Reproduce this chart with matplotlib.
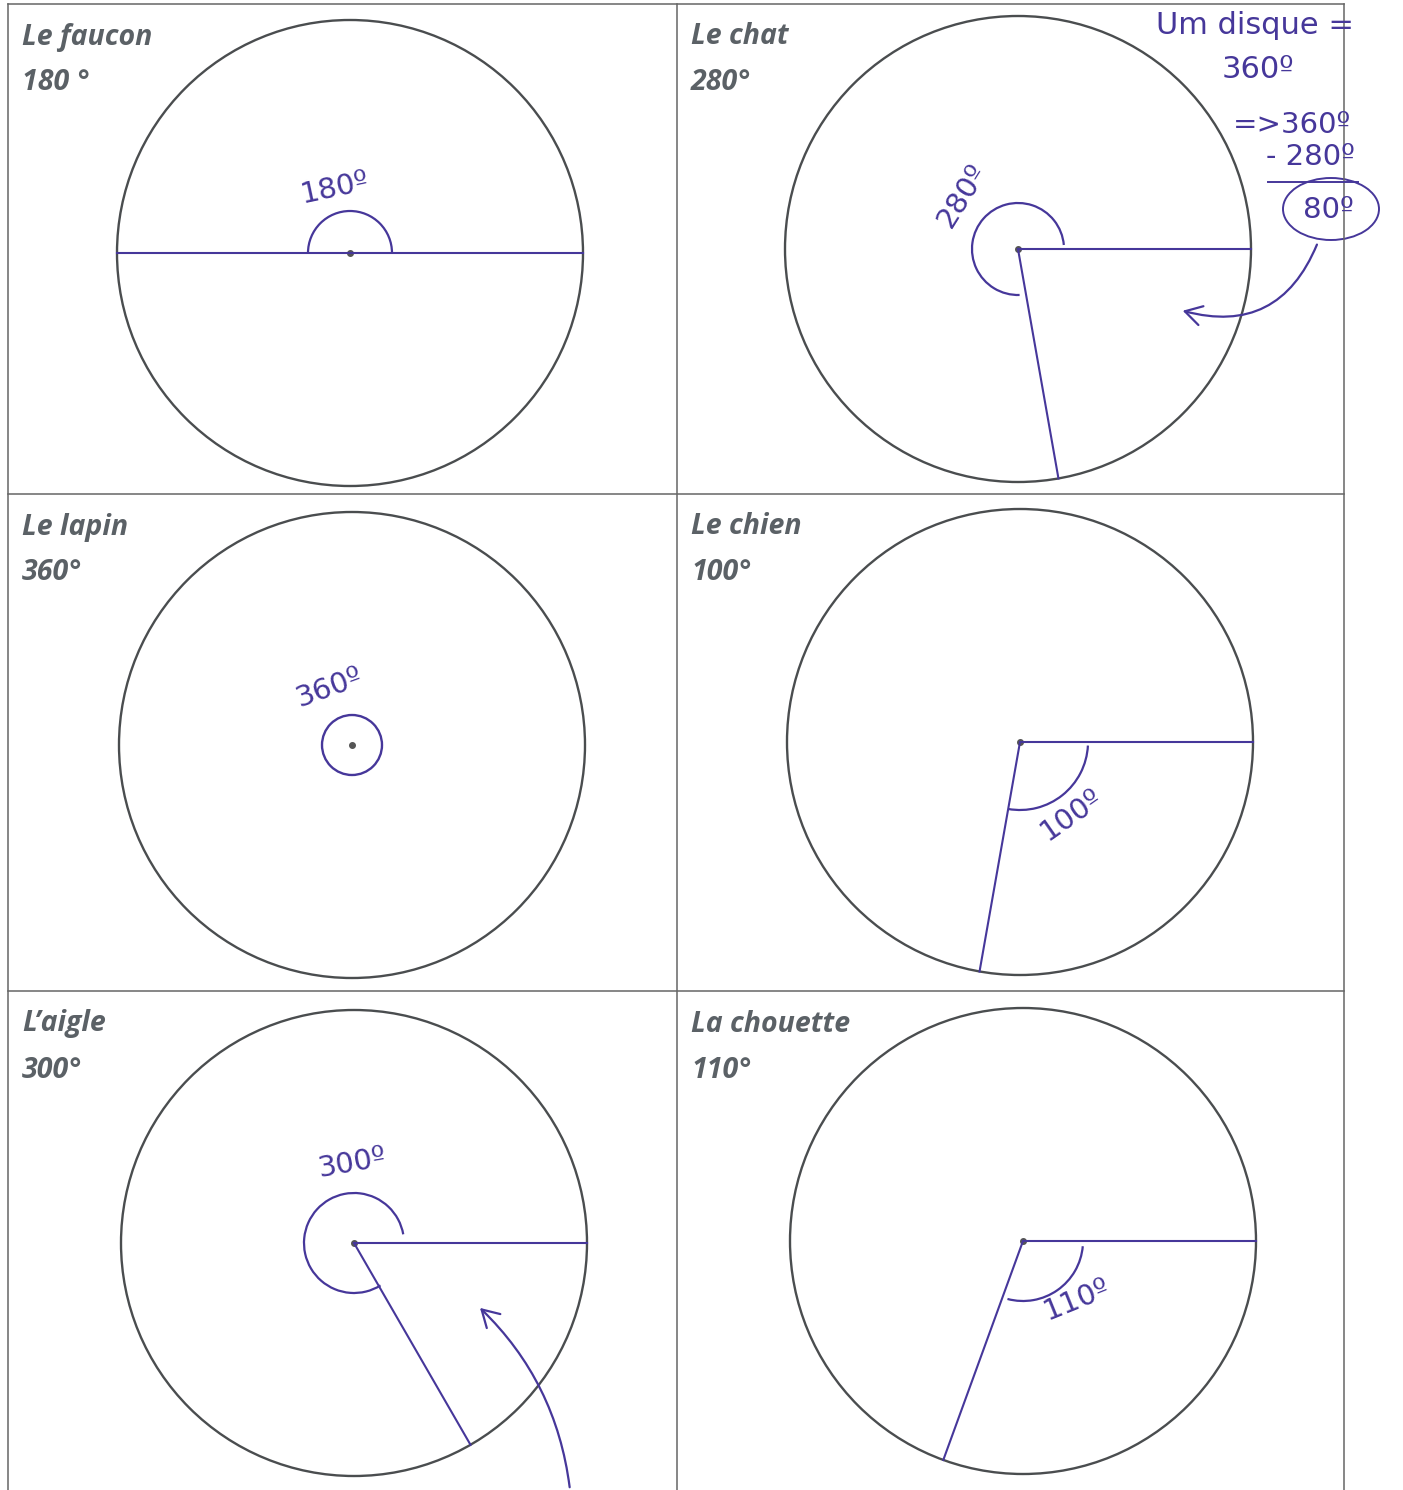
import numpy as np
import matplotlib
matplotlib.use('Agg')
import matplotlib.pyplot as plt
from matplotlib.patches import Circle, Arc, FancyArrowPatch, Ellipse

# worksheet content
animals = ['Le faucon', 'Le chat', 'Le lapin', 'Le chien', "L\u2019aigle", 'La chouette']
angle_labels = ['180 \u00b0', '280\u00b0', '360\u00b0', '100\u00b0', '300\u00b0', '110\u00b0']
angles = [180, 280, 360, 100, 300, 110]
# +1: angle drawn counter-clockwise from the right radius, -1: clockwise
sense = [1, 1, 1, -1, 1, -1]
# handwritten answers (with the little underlined degree sign)
answers = ['180\u00ba', '280\u00ba', '360\u00ba', '100\u00ba', '300\u00ba', '110\u00ba']

W, H = 1403, 1490
fig = plt.figure(figsize=(W / 100, H / 100), dpi=100)
ax = fig.add_axes([0, 0, 1, 1])
ax.set_xlim(0, W)
ax.set_ylim(H, 0)
ax.set_aspect('equal')
ax.axis('off')

GRID = '#666666'
CIRC = '#4a4d4f'
PURPLE = '#46379a'
TITLE = '#5b6166'
HAND = ['DejaVu Sans']

# grid of the table
col_x = [8, 677, 1344]
row_y = [4, 494, 991, 1490]
for x in col_x:
    ax.plot([x, x], [row_y[0], row_y[-1]], color=GRID, lw=1.1)
for y in row_y[:-1]:
    ax.plot([col_x[0], col_x[-1]], [y, y], color=GRID, lw=1.1)

# circle centres and radius, one per cell
centres = [(350, 253), (1018, 249), (352, 745), (1020, 742), (354, 1243), (1023, 1241)]
R = 233

for i, (name, lab, ang, s) in enumerate(zip(animals, angle_labels, angles, sense)):
    col, row = i % 2, i // 2
    x0 = col_x[col] + 14
    y0 = row_y[row] + 33
    ax.text(x0, y0, name, fontsize=20.5, fontweight='bold', fontstyle='italic',
            family='Open Sans', color=TITLE, va='center', ha='left')
    ax.text(x0, y0 + 46, lab, fontsize=20.5, fontweight='bold', fontstyle='italic',
            family='Open Sans', color=TITLE, va='center', ha='left')

    cx, cy = centres[i]
    ax.add_patch(Circle((cx, cy), R, fill=False, ec=CIRC, lw=1.7))
    ax.plot(cx, cy, 'o', ms=4, color='#555555')

    # drawn radii: one along 0 deg, the other at the angle
    if ang == 180:
        ax.plot([cx - R, cx + R], [cy, cy], color=PURPLE, lw=1.5)
    elif ang < 360:
        ax.plot([cx, cx + R], [cy, cy], color=PURPLE, lw=1.5)
        t = np.deg2rad(s * ang)
        ax.plot([cx, cx + R * np.cos(t)], [cy, cy - R * np.sin(t)], color=PURPLE, lw=1.5)

# handwritten angle marks; t1..t2 in screen angles (counter-clockwise, y axis points down)
def mark(c, r, t1, t2):
    ax.add_patch(Arc(c, 2 * r, 2 * r, theta1=-t2, theta2=-t1, color=PURPLE, lw=1.6))

mark(centres[0], 42, 0, 180)
mark(centres[1], 46, 5, 272)
ax.add_patch(Circle(centres[2], 30, fill=False, ec=PURPLE, lw=1.7))
mark(centres[3], 68, -100, -3)
mark(centres[4], 50, 10, 302)
mark(centres[5], 60, -105, -5)

hand_pos = [(335, 188, 12), (962, 195, 58), (330, 688, 20),
            (1072, 815, 35), (352, 1163, 10), (1077, 1300, 22)]
for (x, y, rot), txt in zip(hand_pos, answers):
    ax.text(x, y, txt, fontsize=21, family=HAND, color=PURPLE, rotation=rot,
            ha='center', va='center')

# margin note in the cat cell
note = dict(family=HAND, color=PURPLE, ha='center', va='center')
ax.text(1255, 25, 'Um disque =', fontsize=22, **note)
ax.text(1258, 70, '360\u00ba', fontsize=22, **note)
ax.text(1292, 125, '=>360\u00ba', fontsize=21, **note)
ax.text(1310, 157, '- 280\u00ba', fontsize=21, **note)
ax.plot([1268, 1358], [182, 182], color=PURPLE, lw=1.4)
ax.text(1328, 210, '80\u00ba', fontsize=21, **note)
ax.add_patch(Ellipse((1331, 209), 96, 62, fill=False, ec=PURPLE, lw=1.4))
ax.add_patch(FancyArrowPatch((1318, 242), (1180, 310), connectionstyle='arc3,rad=-0.45',
                             arrowstyle='->,head_length=12,head_width=7', color=PURPLE, lw=1.6))
ax.add_patch(FancyArrowPatch((570, 1490), (478, 1306), connectionstyle='arc3,rad=0.18',
                             arrowstyle='->,head_length=12,head_width=7', color=PURPLE, lw=1.6))

fig.savefig('out.png', dpi=100, facecolor='white')
